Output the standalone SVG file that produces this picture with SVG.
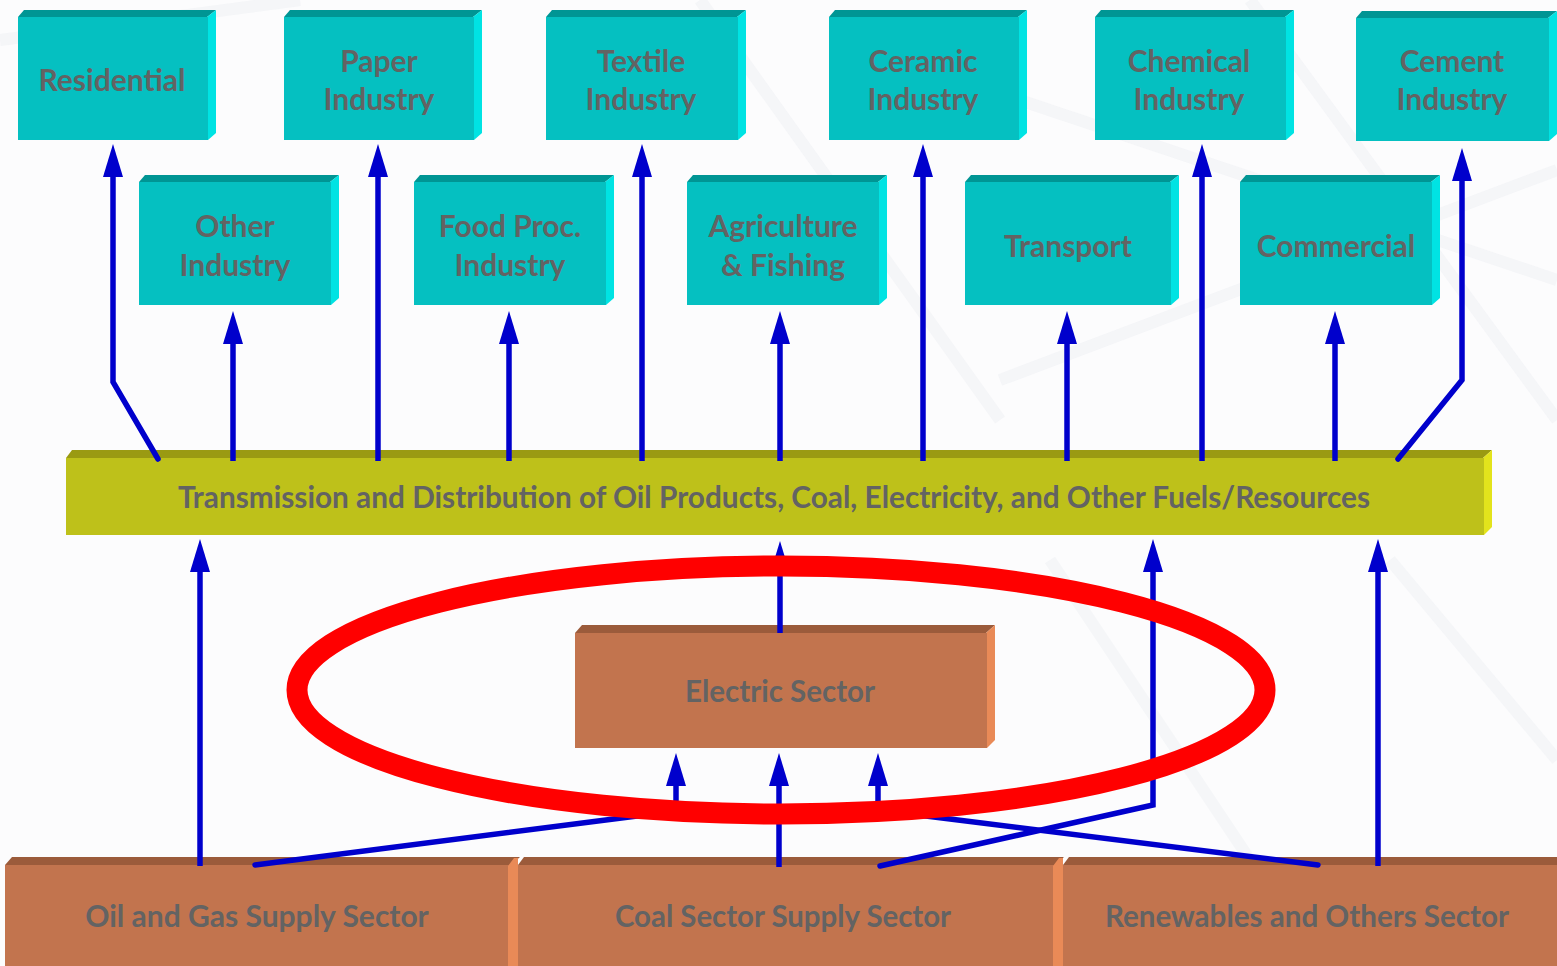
<svg xmlns="http://www.w3.org/2000/svg" width="1557" height="966" viewBox="0 0 1557 966">
  <defs>
    <style>
      .lbl { font-family: Lato, "Open Sans", "Liberation Sans", sans-serif; font-weight: 700; fill: #636363; text-anchor: middle; }
      .t30 { font-size: 30px; }
      .t29 { font-size: 29.5px; }
      .cy-face { fill: #05c0c1; }
      .cy-top { fill: #009594; }
      .cy-side { fill: #00e3e3; }
      .br-face { fill: #c2744e; }
      .br-top { fill: #9b5b3b; }
      .br-side { fill: #e98a57; }
      .ol-face { fill: #bec11a; }
      .ol-top { fill: #9a9a12; }
      .ol-side { fill: #e3e31c; }
      .flow { fill: none; stroke: #0000cc; stroke-width: 5.5; stroke-linejoin: miter; }
      .flow-r { fill: none; stroke: #0000cc; stroke-width: 5.5; stroke-linecap: round; stroke-linejoin: miter; }
      .bgline { fill: none; stroke: #eef0f4; stroke-width: 12; opacity: 0.5; }
    </style>
    <marker id="head" viewBox="0 0 33 20" refX="1" refY="10" markerWidth="33" markerHeight="20" markerUnits="userSpaceOnUse" orient="auto">
      <path d="M0 0 L33 10 L0 20 Z" fill="#0000cc"/>
    </marker>
  </defs>

  <!-- backdrop -->
  <rect width="1557" height="966" fill="#fcfcfd"/>
  <g id="backdrop">
    <path class="bgline" d="M700 0 L1000 420"/>
    <path class="bgline" d="M900 60 L1557 280"/>
    <path class="bgline" d="M1250 0 L1557 420"/>
    <path class="bgline" d="M1000 380 L1557 170"/>
    <path class="bgline" d="M1390 560 L1557 760"/>
    <path class="bgline" d="M1050 560 L1250 860"/>
    <path class="bgline" d="M0 40 L300 0"/>
  </g>

  <!-- consumer sectors, upper row -->
  <g id="residential">
    <polygon class="cy-top" points="18,17 24,10 216,10 207,17"/>
    <polygon class="cy-side" points="207,17 216,10 216,133 208,140"/>
    <rect class="cy-face" x="18" y="17" width="190" height="123"/>
    <text class="lbl t30" x="112" y="91">Residential</text>
  </g>
  <g id="paper">
    <polygon class="cy-top" points="284,17 290,10 482,10 473,17"/>
    <polygon class="cy-side" points="473,17 482,10 482,133 474,140"/>
    <rect class="cy-face" x="284" y="17" width="190" height="123"/>
    <text class="lbl t30" x="379" y="72">Paper</text>
    <text class="lbl t30" x="379" y="110">Industry</text>
  </g>
  <g id="textile">
    <polygon class="cy-top" points="546,17 552,10 746,10 737,17"/>
    <polygon class="cy-side" points="737,17 746,10 746,133 738,140"/>
    <rect class="cy-face" x="546" y="17" width="192" height="123"/>
    <text class="lbl t30" x="641" y="72">Textile</text>
    <text class="lbl t30" x="641" y="110">Industry</text>
  </g>
  <g id="ceramic">
    <polygon class="cy-top" points="829,17 835,10 1027,10 1018,17"/>
    <polygon class="cy-side" points="1018,17 1027,10 1027,133 1019,140"/>
    <rect class="cy-face" x="829" y="17" width="190" height="123"/>
    <text class="lbl t30" x="923" y="72">Ceramic</text>
    <text class="lbl t30" x="923" y="110">Industry</text>
  </g>
  <g id="chemical">
    <polygon class="cy-top" points="1095,17 1101,10 1294,10 1285,17"/>
    <polygon class="cy-side" points="1285,17 1294,10 1294,133 1286,140"/>
    <rect class="cy-face" x="1095" y="17" width="191" height="123"/>
    <text class="lbl t30" x="1189" y="72">Chemical</text>
    <text class="lbl t30" x="1189" y="110">Industry</text>
  </g>
  <g id="cement">
    <polygon class="cy-top" points="1356,18 1362,11 1557,11 1548,18"/>
    <polygon class="cy-side" points="1548,18 1557,11 1557,134 1549,141"/>
    <rect class="cy-face" x="1356" y="18" width="193" height="123"/>
    <text class="lbl t30" x="1452" y="72">Cement</text>
    <text class="lbl t30" x="1452" y="110">Industry</text>
  </g>

  <!-- consumer sectors, lower row -->
  <g id="other-industry">
    <polygon class="cy-top" points="139,182 145,175 339,175 330,182"/>
    <polygon class="cy-side" points="330,182 339,175 339,298 331,305"/>
    <rect class="cy-face" x="139" y="182" width="192" height="123"/>
    <text class="lbl t30" x="235" y="237">Other</text>
    <text class="lbl t30" x="235" y="276">Industry</text>
  </g>
  <g id="food-processing">
    <polygon class="cy-top" points="414,182 420,175 614,175 605,182"/>
    <polygon class="cy-side" points="605,182 614,175 614,298 606,305"/>
    <rect class="cy-face" x="414" y="182" width="192" height="123"/>
    <text class="lbl t30" x="510" y="237">Food Proc.</text>
    <text class="lbl t30" x="510" y="276">Industry</text>
  </g>
  <g id="agriculture">
    <polygon class="cy-top" points="687,182 693,175 887,175 878,182"/>
    <polygon class="cy-side" points="878,182 887,175 887,298 879,305"/>
    <rect class="cy-face" x="687" y="182" width="192" height="123"/>
    <text class="lbl t30" x="783" y="237">Agriculture</text>
    <text class="lbl t30" x="783" y="276">&amp; Fishing</text>
  </g>
  <g id="transport">
    <polygon class="cy-top" points="965,182 971,175 1179,175 1170,182"/>
    <polygon class="cy-side" points="1170,182 1179,175 1179,298 1171,305"/>
    <rect class="cy-face" x="965" y="182" width="206" height="123"/>
    <text class="lbl t30" x="1068" y="257">Transport</text>
  </g>
  <g id="commercial">
    <polygon class="cy-top" points="1240,182 1246,175 1440,175 1431,182"/>
    <polygon class="cy-side" points="1431,182 1440,175 1440,298 1432,305"/>
    <rect class="cy-face" x="1240" y="182" width="192" height="123"/>
    <text class="lbl t30" x="1336" y="257">Commercial</text>
  </g>

  <!-- transmission and distribution bar -->
  <g id="transmission">
    <polygon class="ol-top" points="66,458 72,450 1492,450 1483,458"/>
    <polygon class="ol-side" points="1483,458 1492,450 1492,527 1484,535"/>
    <rect class="ol-face" x="66" y="458" width="1418" height="77"/>
    <text class="lbl t29" x="774" y="508" textLength="1192" lengthAdjust="spacingAndGlyphs">Transmission and Distribution of Oil Products, Coal, Electricity, and Other Fuels/Resources</text>
  </g>

  <!-- power generation -->
  <g id="electric-sector">
    <polygon class="br-top" points="575,633 582,625 995,625 986,633"/>
    <polygon class="br-side" points="986,633 995,625 995,740 987,748"/>
    <rect class="br-face" x="575" y="633" width="412" height="115"/>
    <text class="lbl t29" x="780" y="702">Electric Sector</text>
  </g>

  <!-- primary supply sectors -->
  <g id="oil-gas-supply">
    <polygon class="br-top" points="5,865 12,857 520,857 511,865"/>
    <rect class="br-face" x="5" y="865" width="507" height="101"/>
    <polygon class="br-side" points="508,866 514,858 518,858 518,966 508,966"/>
    <text class="lbl t30" x="257" y="927">Oil and Gas Supply Sector</text>
  </g>
  <g id="coal-supply">
    <polygon class="br-top" points="518,865 524,857 1064,857 1055,865"/>
    <rect class="br-face" x="518" y="865" width="537" height="101"/>
    <polygon class="br-side" points="1053,866 1059,858 1063,858 1063,966 1053,966"/>
    <text class="lbl t30" x="783" y="927" textLength="336" lengthAdjust="spacingAndGlyphs">Coal Sector Supply Sector</text>
  </g>
  <g id="renewables-supply">
    <polygon class="br-top" points="1063,865 1069,857 1557,857 1557,865"/>
    <rect class="br-face" x="1063" y="865" width="494" height="101"/>
    <text class="lbl t30" x="1307" y="927" textLength="404" lengthAdjust="spacingAndGlyphs">Renewables and Others Sector</text>
  </g>

  <!-- energy flows -->
  <g id="connectors">
    <!-- distribution to end-use sectors -->
    <path class="flow-r" d="M158 459 L113 382 L113 176" marker-end="url(#head)"/>
    <path class="flow" d="M233 461 L233 343" marker-end="url(#head)"/>
    <path class="flow" d="M378 461 L378 176" marker-end="url(#head)"/>
    <path class="flow" d="M509 461 L509 343" marker-end="url(#head)"/>
    <path class="flow" d="M642 461 L642 176" marker-end="url(#head)"/>
    <path class="flow" d="M780 461 L780 343" marker-end="url(#head)"/>
    <path class="flow" d="M923 461 L923 176" marker-end="url(#head)"/>
    <path class="flow" d="M1067 461 L1067 343" marker-end="url(#head)"/>
    <path class="flow" d="M1202 461 L1202 176" marker-end="url(#head)"/>
    <path class="flow" d="M1335 461 L1335 343" marker-end="url(#head)"/>
    <path class="flow-r" d="M1398 459 L1462 380 L1462 180" marker-end="url(#head)"/>

    <!-- supply into distribution -->
    <path class="flow" d="M200 866 L200 571" marker-end="url(#head)"/>
    <path class="flow" d="M1378 866 L1378 571" marker-end="url(#head)"/>
    <path class="flow" d="M780 633 L780 573" marker-end="url(#head)"/>
    <path class="flow-r" d="M880 866 L1153 805 L1153 571" marker-end="url(#head)"/>

    <!-- fuels into power generation -->
    <path class="flow-r" d="M255 865 L676 811 L676 785" marker-end="url(#head)"/>
    <path class="flow" d="M779 867 L779 785" marker-end="url(#head)"/>
    <path class="flow-r" d="M1318 865 L878 810 L878 785" marker-end="url(#head)"/>
  </g>

  <!-- highlight ring around the power sector -->
  <ellipse id="highlight" cx="781" cy="690" rx="484" ry="124" fill="none" stroke="#ff0000" stroke-width="21"/>
</svg>
